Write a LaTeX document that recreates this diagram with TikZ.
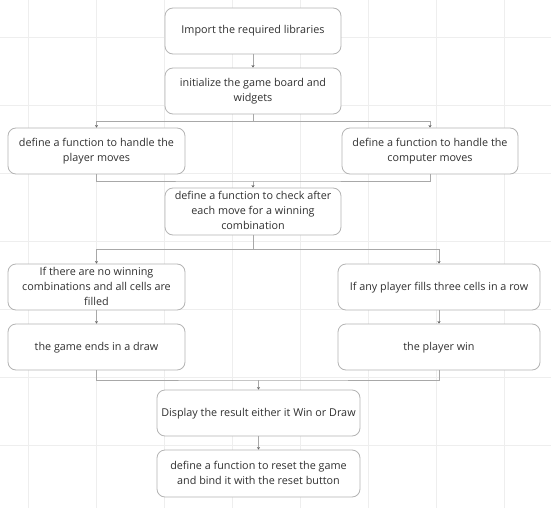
\documentclass[tikz,border=0pt]{standalone}
\usepackage{fontspec}
\setmainfont{Open Sans}
\usetikzlibrary{arrows.meta}
\definecolor{gridc}{HTML}{EEEEEE}
\definecolor{boxc}{HTML}{B4B4B4}
\definecolor{linec}{HTML}{A8A8A8}
\definecolor{txtc}{HTML}{303030}
\newcommand\boxtext[1]{\raisebox{-2.2pt}{\begin{tabular}{@{}c@{}}#1\end{tabular}}}
\tikzset{
  box/.style={draw=boxc, line width=0.8pt, rounded corners=8pt, fill=white, inner sep=0pt,
    minimum height=46pt, minimum width=176pt, text=txtc,
    font=\fontsize{10.8}{15}\selectfont},
  conn/.style={draw=linec, line width=0.8pt},
  arr/.style={conn, -{Stealth[length=2.5pt,width=3pt,color=gray!80!black]}},
}
\begin{document}
\begin{tikzpicture}[x=1pt,y=-1pt]
\fill[white] (0,0) rectangle (551,508);
\useasboundingbox (0,0) rectangle (551,508);
\foreach \gx in {28,96,...,504} \draw[gridc, line width=0.8pt] (\gx,0) -- (\gx,508);
\foreach \gy in {37,105,...,445} \draw[gridc, line width=0.8pt] (0,\gy) -- (551,\gy);

\node[box] (import) at (253,31) {\boxtext{Import the required libraries}};
\node[box] (init) at (253,91) {\boxtext{initialize the game board and\\widgets}};
\node[box, minimum width=177pt] (player) at (96.5,151) {\boxtext{define a function to handle the\\player moves}};
\node[box] (computer) at (430,151) {\boxtext{define a function to handle the\\computer moves}};
\node[box, minimum height=47pt] (check) at (253,211.5) {\boxtext{define a function to check after\\each move for a winning\\combination}};
\node[box, minimum width=177pt] (nowin) at (96.5,287) {\boxtext{If there are no winning\\combinations and all cells are\\filled}};
\node[box, minimum width=202pt] (any) at (439,287) {\boxtext{If any player fills three cells in a row}};
\node[box, minimum width=177pt] (draw) at (96.5,347) {\boxtext{the game ends in a draw}};
\node[box, minimum width=202pt] (win) at (439,347) {\boxtext{the player win}};
\node[box, minimum width=203pt] (display) at (258.5,413) {\boxtext{Display the result either it Win or Draw}};
\node[box, minimum width=203pt, minimum height=47pt] (reset) at (258.5,473.5) {\boxtext{define a function to reset the game\\and bind it with the reset button}};

\draw[arr] (import) -- (init);

\coordinate (b1) at (253,121);
\draw[conn] (init.south) -- (b1);
\draw[arr] (b1) -| (player.north);
\draw[arr] (b1) -| (computer.north);

\coordinate (b2) at (253,181);
\draw[conn] (player.south) |- (b2) -| (computer.south);
\draw[arr] (b2) -- (check.north);

\coordinate (b3) at (253,249);
\draw[conn] (check.south) -- (b3);
\draw[arr] (b3) -| (nowin.north);
\draw[arr] (b3) -| (any.north);

\draw[arr] (nowin) -- (draw);
\draw[arr] (any) -- (win);

\coordinate (b4) at (258.5,380);
\draw[conn] (draw.south) |- (b4) -| (win.south);
\draw[arr] (b4) -- (display.north);

\draw[arr] (display) -- (reset);
\end{tikzpicture}
\end{document}
